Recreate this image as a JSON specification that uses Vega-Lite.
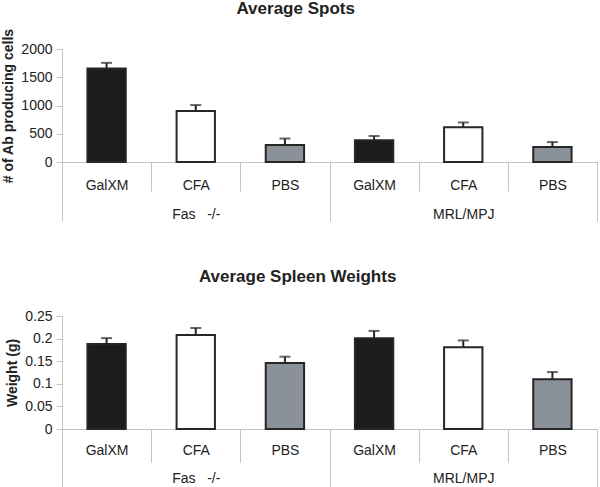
{
  "$schema": "https://vega.github.io/schema/vega-lite/v6.json",
  "padding": {"left": 1, "top": 0, "right": 3, "bottom": 0},
  "config": {"view": {"stroke": null}, "font": "Liberation Sans"},
  "spacing": 46,
  "vconcat": [
    {
      "title": {"text": "Average Spots", "frame": "bounds", "fontSize": 17, "fontWeight": "bold", "font": "Liberation Sans", "color": "#222222", "offset": 10, "dx": -4},
      "width": 535,
      "height": 113,
      "layer": [
        {
          "data": {"values": [
            {"bar": "GalXM|Fas", "treatment": "GalXM", "value": 1655, "upper": 1755},
            {"bar": "CFA|Fas", "treatment": "CFA", "value": 903, "upper": 1008},
            {"bar": "PBS|Fas", "treatment": "PBS", "value": 300, "upper": 415},
            {"bar": "GalXM|MRL", "treatment": "GalXM", "value": 385, "upper": 460},
            {"bar": "CFA|MRL", "treatment": "CFA", "value": 615, "upper": 700},
            {"bar": "PBS|MRL", "treatment": "PBS", "value": 265, "upper": 353}
          ]},
          "encoding": {
            "x": {"field": "bar", "type": "nominal",
              "scale": {"domain": ["GalXM|Fas", "CFA|Fas", "PBS|Fas", "GalXM|MRL", "CFA|MRL", "PBS|MRL"], "paddingInner": 0, "paddingOuter": 0},
              "axis": {"orient": "bottom", "title": null, "labelAngle": 0, "labelExpr": "split(datum.label, '|')[0]", "tickBand": "extent", "tickSize": 29, "labelPadding": -6, "labelBaseline": "middle", "labelFontSize": 14, "labelColor": "#222222", "labelOverlap": false, "domainColor": "#c4c4c4", "tickColor": "#c4c4c4"}}
          },
          "layer": [
            {"mark": {"type": "bar", "width": {"band": 0.43}, "stroke": "#262626", "strokeWidth": 2},
             "encoding": {
               "y": {"field": "value", "type": "quantitative", "scale": {"domain": [0, 2000], "nice": false},
                 "axis": {"title": "# of Ab producing cells", "titleFontSize": 14, "titleFontWeight": "bold", "titleColor": "#222222", "titlePadding": 5, "values": [0, 500, 1000, 1500, 2000], "format": "d", "labelOverlap": false, "grid": false, "labelFontSize": 14, "labelColor": "#222222", "tickSize": 6, "labelPadding": 4, "domainColor": "#c4c4c4", "tickColor": "#c4c4c4"}},
               "fill": {"field": "treatment", "type": "nominal", "scale": {"domain": ["GalXM", "CFA", "PBS"], "range": ["#1e1b1b", "#ffffff", "#8a9199"]}, "legend": null}
             }},
            {"mark": {"type": "rule", "color": "#262626", "strokeWidth": 2},
             "encoding": {"y": {"field": "value", "type": "quantitative",
                 "axis": {"title": "# of Ab producing cells", "titleFontSize": 14, "titleFontWeight": "bold", "titleColor": "#222222", "titlePadding": 5, "values": [0, 500, 1000, 1500, 2000], "format": "d", "labelOverlap": false, "grid": false, "labelFontSize": 14, "labelColor": "#222222", "tickSize": 6, "labelPadding": 4, "domainColor": "#c4c4c4", "tickColor": "#c4c4c4"}},
               "y2": {"field": "upper"}}},
            {"mark": {"type": "tick", "color": "#262626", "thickness": 2, "size": 11, "orient": "horizontal"},
             "encoding": {"y": {"field": "upper", "type": "quantitative",
                 "axis": {"title": "# of Ab producing cells", "titleFontSize": 14, "titleFontWeight": "bold", "titleColor": "#222222", "titlePadding": 5, "values": [0, 500, 1000, 1500, 2000], "format": "d", "labelOverlap": false, "grid": false, "labelFontSize": 14, "labelColor": "#222222", "tickSize": 6, "labelPadding": 4, "domainColor": "#c4c4c4", "tickColor": "#c4c4c4"}}}}
          ]
        },
        {
          "data": {"values": [{"group": "Fas\u00a0\u00a0\u00a0-/-"}, {"group": "MRL/MPJ"}]},
          "mark": {"type": "rule", "opacity": 0},
          "encoding": {
            "x": {"field": "group", "type": "nominal",
              "scale": {"domain": ["Fas\u00a0\u00a0\u00a0-/-", "MRL/MPJ"], "paddingInner": 0, "paddingOuter": 0},
              "axis": {"orient": "bottom", "title": null, "labelAngle": 0, "domain": false, "tickBand": "extent", "tickSize": 59, "labelPadding": -7, "labelBaseline": "middle", "labelFontSize": 14, "labelColor": "#222222", "labelOverlap": false, "tickColor": "#c4c4c4"}}
          }
        }
      ],
      "resolve": {"scale": {"x": "independent"}, "axis": {"x": "independent"}}
    },
    {
      "title": {"text": "Average Spleen Weights", "frame": "bounds", "fontSize": 17, "fontWeight": "bold", "font": "Liberation Sans", "color": "#222222", "offset": 23, "dx": -4},
      "width": 535,
      "height": 113,
      "layer": [
        {
          "data": {"values": [
            {"bar": "GalXM|Fas", "treatment": "GalXM", "value": 0.188, "upper": 0.201},
            {"bar": "CFA|Fas", "treatment": "CFA", "value": 0.208, "upper": 0.2235},
            {"bar": "PBS|Fas", "treatment": "PBS", "value": 0.146, "upper": 0.16},
            {"bar": "GalXM|MRL", "treatment": "GalXM", "value": 0.201, "upper": 0.217},
            {"bar": "CFA|MRL", "treatment": "CFA", "value": 0.181, "upper": 0.196},
            {"bar": "PBS|MRL", "treatment": "PBS", "value": 0.11, "upper": 0.126}
          ]},
          "encoding": {
            "x": {"field": "bar", "type": "nominal",
              "scale": {"domain": ["GalXM|Fas", "CFA|Fas", "PBS|Fas", "GalXM|MRL", "CFA|MRL", "PBS|MRL"], "paddingInner": 0, "paddingOuter": 0},
              "axis": {"orient": "bottom", "title": null, "labelAngle": 0, "labelExpr": "split(datum.label, '|')[0]", "tickBand": "extent", "tickSize": 33, "labelPadding": -12, "labelBaseline": "middle", "labelFontSize": 14, "labelColor": "#222222", "labelOverlap": false, "domainColor": "#c4c4c4", "tickColor": "#c4c4c4"}}
          },
          "layer": [
            {"mark": {"type": "bar", "width": {"band": 0.43}, "stroke": "#262626", "strokeWidth": 2},
             "encoding": {
               "y": {"field": "value", "type": "quantitative", "scale": {"domain": [0, 0.25], "nice": false},
                 "axis": {"title": "Weight (g)", "titleFontSize": 14, "titleFontWeight": "bold", "titleColor": "#222222", "titlePadding": 5, "values": [0, 0.05, 0.1, 0.15, 0.2, 0.25], "format": "~g", "labelOverlap": false, "grid": false, "labelFontSize": 14, "labelColor": "#222222", "tickSize": 6, "labelPadding": 4, "domainColor": "#c4c4c4", "tickColor": "#c4c4c4"}},
               "fill": {"field": "treatment", "type": "nominal", "scale": {"domain": ["GalXM", "CFA", "PBS"], "range": ["#1e1b1b", "#ffffff", "#8a9199"]}, "legend": null}
             }},
            {"mark": {"type": "rule", "color": "#262626", "strokeWidth": 2},
             "encoding": {"y": {"field": "value", "type": "quantitative",
                 "axis": {"title": "Weight (g)", "titleFontSize": 14, "titleFontWeight": "bold", "titleColor": "#222222", "titlePadding": 5, "values": [0, 0.05, 0.1, 0.15, 0.2, 0.25], "format": "~g", "labelOverlap": false, "grid": false, "labelFontSize": 14, "labelColor": "#222222", "tickSize": 6, "labelPadding": 4, "domainColor": "#c4c4c4", "tickColor": "#c4c4c4"}},
               "y2": {"field": "upper"}}},
            {"mark": {"type": "tick", "color": "#262626", "thickness": 2, "size": 11, "orient": "horizontal"},
             "encoding": {"y": {"field": "upper", "type": "quantitative",
                 "axis": {"title": "Weight (g)", "titleFontSize": 14, "titleFontWeight": "bold", "titleColor": "#222222", "titlePadding": 5, "values": [0, 0.05, 0.1, 0.15, 0.2, 0.25], "format": "~g", "labelOverlap": false, "grid": false, "labelFontSize": 14, "labelColor": "#222222", "tickSize": 6, "labelPadding": 4, "domainColor": "#c4c4c4", "tickColor": "#c4c4c4"}}}}
          ]
        },
        {
          "data": {"values": [{"group": "Fas\u00a0\u00a0\u00a0-/-"}, {"group": "MRL/MPJ"}]},
          "mark": {"type": "rule", "opacity": 0},
          "encoding": {
            "x": {"field": "group", "type": "nominal",
              "scale": {"domain": ["Fas\u00a0\u00a0\u00a0-/-", "MRL/MPJ"], "paddingInner": 0, "paddingOuter": 0},
              "axis": {"orient": "bottom", "title": null, "labelAngle": 0, "domain": false, "tickBand": "extent", "tickSize": 58, "labelPadding": -9, "labelBaseline": "middle", "labelFontSize": 14, "labelColor": "#222222", "labelOverlap": false, "tickColor": "#c4c4c4"}}
          }
        }
      ],
      "resolve": {"scale": {"x": "independent"}, "axis": {"x": "independent"}}
    }
  ]
}
